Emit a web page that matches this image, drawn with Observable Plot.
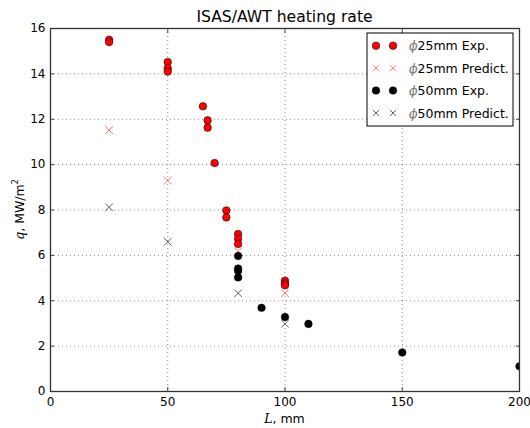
<!DOCTYPE html>
<html><head><meta charset="utf-8">
<script src="https://cdn.jsdelivr.net/npm/d3@7"></script>
<script src="https://cdn.jsdelivr.net/npm/@observablehq/plot@0.6"></script>
<style>
body{margin:0;background:#fff}
svg{font-family:"DejaVu Sans",sans-serif}
</style>
</head><body><div id="chart"></div>
<script>
const title = "ISAS/AWT heating rate";
const xTicks = [0, 50, 100, 150, 200];
const yTicks = [0, 2, 4, 6, 8, 10, 12, 14, 16];
const seriesNames = ["25mm Exp.", "25mm Predict.", "50mm Exp.", "50mm Predict."];

const exp25L = [25, 25, 50, 50, 50, 65, 67, 67, 70, 75, 75, 80, 80, 80, 100, 100, 100];
const exp25Q = [15.5, 15.4, 14.52, 14.25, 14.1, 12.57, 11.95, 11.63, 10.07, 7.98, 7.67, 6.94, 6.73, 6.5, 4.88, 4.77, 4.68];
const pred25L = [25, 50, 80, 100];
const pred25Q = [11.52, 9.3, 6.17, 4.33];
const exp50L = [80, 80, 80, 80, 90, 100, 110, 150, 200];
const exp50Q = [5.97, 5.42, 5.32, 5.03, 3.69, 3.28, 2.98, 1.72, 1.11];
const pred50L = [25, 50, 80, 100];
const pred50Q = [8.12, 6.6, 4.33, 2.99];

const zip = (xs, ys) => xs.map((x, i) => ({L: x, q: ys[i]}));
const exp25 = zip(exp25L, exp25Q);
const pred25 = zip(pred25L, pred25Q);
const exp50 = zip(exp50L, exp50Q);
const pred50 = zip(pred50L, pred50Q);

const styles = [
  {kind: "dot", fill: "#ff0000", stroke: "#000"},
  {kind: "x", stroke: "#ff0000", opacity: 0.55},
  {kind: "dot", fill: "#000", stroke: "#000"},
  {kind: "x", stroke: "#000", opacity: 0.6}
];

const W = 530, H = 428;
const mL = 50, mR = 11, mT = 28, mB = 37;
const gridStyle = {stroke: "#000", strokeOpacity: 0.45, strokeDasharray: "1,3", strokeWidth: 1};

const plot = Plot.plot({
  width: W, height: H,
  marginLeft: mL, marginRight: mR, marginTop: mT, marginBottom: mB,
  style: {fontFamily: "DejaVu Sans", fontSize: "12px", color: "#000", background: "#fff"},
  x: {domain: [0, 200], label: null},
  y: {domain: [0, 16], label: null},
  marks: [
    Plot.gridX(xTicks, gridStyle),
    Plot.gridY(yTicks, gridStyle),
    Plot.axisX(xTicks, {anchor: "bottom", tickSize: 0, tickPadding: 6, label: null, fontSize: 12}),
    Plot.axisY(yTicks, {anchor: "left", tickSize: 0, tickPadding: 5, label: null, fontSize: 12}),
    Plot.axisX(xTicks, {anchor: "bottom", tickSize: -4, tickFormat: () => "", label: null, stroke: "#444"}),
    Plot.axisX(xTicks, {anchor: "top", tickSize: -4, tickFormat: () => "", label: null, stroke: "#444"}),
    Plot.axisY(yTicks, {anchor: "left", tickSize: -4, tickFormat: () => "", label: null, stroke: "#444"}),
    Plot.axisY(yTicks, {anchor: "right", tickSize: -4, tickFormat: () => "", label: null, stroke: "#444"}),
    Plot.dot(exp25, {x: "L", y: "q", r: 3.8, fill: styles[0].fill, stroke: styles[0].stroke, strokeWidth: 0.5}),
    Plot.dot(pred25, {x: "L", y: "q", r: 3.6, symbol: "times", stroke: styles[1].stroke, strokeOpacity: styles[1].opacity, strokeWidth: 1}),
    Plot.dot(exp50, {x: "L", y: "q", r: 3.8, fill: styles[2].fill, stroke: styles[2].stroke, strokeWidth: 0.5}),
    Plot.dot(pred50, {x: "L", y: "q", r: 3.6, symbol: "times", stroke: styles[3].stroke, strokeOpacity: styles[3].opacity, strokeWidth: 1}),
    Plot.frame({stroke: "#333", strokeWidth: 1.3})
  ]
});

const svg = d3.select(plot);
const xs = plot.scale("x"), ys = plot.scale("y");
const cx = (xs.range[0] + xs.range[1]) / 2;
const cy = (ys.range[0] + ys.range[1]) / 2;

// clip data marks to the axes frame
const x0 = Math.min(...xs.range), x1 = Math.max(...xs.range);
const y0 = Math.min(...ys.range), y1 = Math.max(...ys.range);
svg.append("defs").append("clipPath").attr("id", "frameclip")
  .append("rect").attr("x", x0).attr("y", y0).attr("width", x1 - x0).attr("height", y1 - y0);
svg.selectAll("g[aria-label=dot]").attr("clip-path", "url(#frameclip)");

// title
svg.append("text").attr("x", cx).attr("y", 22).attr("text-anchor", "middle")
  .attr("font-size", 15.6).attr("fill", "#000").text(title);

// x label
const xl = svg.append("text").attr("x", cx).attr("y", 423).attr("text-anchor", "middle")
  .attr("font-size", 12.5).attr("fill", "#000");
xl.append("tspan").attr("font-family", "DejaVu Serif").attr("font-style", "italic").text("L");
xl.append("tspan").text(", mm");

// y label
const yl = svg.append("text").attr("transform", `translate(24,${cy}) rotate(-90)`)
  .attr("text-anchor", "middle").attr("font-size", 12.5).attr("fill", "#000");
yl.append("tspan").attr("font-family", "DejaVu Serif").attr("font-style", "italic").text("q");
yl.append("tspan").text(", MW/m");
yl.append("tspan").attr("font-size", 8).attr("dy", -6).text("2");

// legend
const lg = svg.append("g");
const lx = 367, ly = 33, lw = 146, lh = 93;
lg.append("rect").attr("x", lx).attr("y", ly).attr("width", lw).attr("height", lh)
  .attr("fill", "#fff").attr("stroke", "#000").attr("stroke-width", 1);
const rowY = [45.7, 68.3, 90.5, 113];
seriesNames.forEach((name, i) => {
  const st = styles[i];
  [376, 393].forEach(mx => {
    if (st.kind === "dot") {
      lg.append("circle").attr("cx", mx).attr("cy", rowY[i]).attr("r", 3.8)
        .attr("fill", st.fill).attr("stroke", st.stroke).attr("stroke-width", 0.5);
    } else {
      const s = 3;
      lg.append("path").attr("d", `M${mx - s},${rowY[i] - s}L${mx + s},${rowY[i] + s}M${mx - s},${rowY[i] + s}L${mx + s},${rowY[i] - s}`)
        .attr("stroke", st.stroke).attr("stroke-opacity", st.opacity).attr("fill", "none");
    }
  });
  const t = lg.append("text").attr("x", 409).attr("y", rowY[i]).attr("dy", "0.36em")
    .attr("text-anchor", "start").attr("font-size", 12.5).attr("fill", "#000");
  t.append("tspan").attr("font-family", "DejaVu Serif").attr("font-style", "italic").attr("fill", "#777").text("ϕ");
  t.append("tspan").text(name);
});

document.getElementById("chart").appendChild(plot);
</script>
</body></html>
